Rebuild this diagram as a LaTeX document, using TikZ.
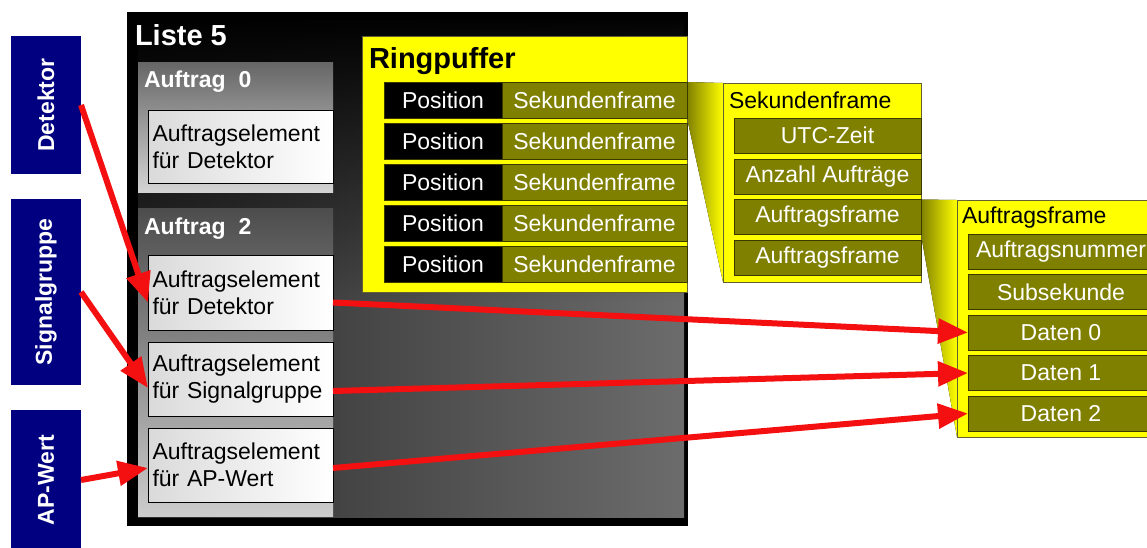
\documentclass[tikz,border=0pt]{standalone}
\usepackage{fontspec}
\setmainfont{Liberation Sans}
\usetikzlibrary{arrows.meta,calc,backgrounds,fadings}
\definecolor{navyc}{HTML}{000080}
\definecolor{olivec}{HTML}{808000}
\definecolor{yellowc}{HTML}{FFFF00}
\definecolor{redc}{HTML}{F41010}
\definecolor{edgec}{HTML}{3A3A00}
\definecolor{graylo}{HTML}{2C2C2C}
\definecolor{grayhi}{HTML}{6C6C6C}
\definecolor{aegray}{HTML}{DADADA}
\tikzfading[name=fadedown, top color=transparent!0, bottom color=transparent!100]
\begin{document}
\begin{tikzpicture}[x=1pt,y=-1pt,
  every node/.style={inner sep=0pt, outer sep=0pt},
  fs/.style={font=\fontsize{23}{27}\selectfont},
  bluebox/.style={anchor=north west, fill=navyc, minimum width=70pt, minimum height=#1},
  bluetext/.style={rotate=90, text=white, font=\bfseries\fontsize{23}{26}\selectfont},
  titlew/.style={anchor=base west, text=white, font=\bfseries\fontsize{23}{26}\selectfont},
  titlebig/.style={anchor=base west, font=\bfseries\fontsize{29}{32}\selectfont},
  titlek/.style={anchor=base west, text=black, fs},
  aebox/.style={anchor=north west, draw=black, line width=0.8pt, left color=aegray, right color=white,
     text width=176pt, inner xsep=4.5pt, align=left, fs, minimum height=#1},
  poscell/.style={anchor=north west, fill=black, draw=edgec, line width=0.8pt, minimum width=118pt,
     minimum height=36pt, text=white, fs},
  sfcell/.style={anchor=north west, fill=olivec, draw=edgec, line width=0.8pt, minimum width=185pt,
     minimum height=36pt, text=white, fs},
  ocell/.style={anchor=north west, fill=olivec, draw=edgec, line width=0.8pt, minimum width=#1,
     minimum height=35pt, text=white, fs},
  ybox/.style={anchor=north west, fill=yellowc, draw=edgec!80, line width=0.8pt},
  redarrow/.style={draw=redc, line width=6pt, -{Triangle[length=30pt,width=24pt]}}
]
\useasboundingbox (0,0) rectangle (1147,547);
\clip (0,0) rectangle (1147,547);

% blue boxes
\node[bluebox=138pt] (det) at (11,36) {};
\node[bluetext] (dett) at (det.center) {Detektor};
\node[bluebox=186pt] (sig) at (11,199) {};
\node[bluetext] (sigt) at (sig.center) {Signalgruppe};
\node[bluebox=140pt] (ap) at (11,410) {};
\node[bluetext] (apt) at (ap.center) {AP-Wert};

% Liste 5
\node[anchor=north west, minimum width=561pt, minimum height=514pt, fill=black] (liste) at (127,12) {};
\fill[left color=graylo, right color=grayhi] ($(liste.north west)+(11,8)$) rectangle ($(liste.south east)+(-4,-9)$);
\fill[black, path fading=fadedown] (liste.north west) rectangle ($(liste.north east)+(0,290)$);
\node[titlebig, text=white] (listet) at (135,45) {Liste 5};

% Auftrag 0
\node[anchor=north west, minimum width=195pt, minimum height=130pt, top color=black!60, bottom color=black!17] (auf0) at (138,62) {};
\node[titlew] (auf0t) at (144,87) {Auftrag~~0};
\node[aebox=73pt] (ae0) at (148,110) {Auftragselement\\für Detektor};

% Auftrag 2
\node[anchor=north west, minimum width=195pt, minimum height=308pt, top color=black!70, bottom color=black!20] (auf2) at (138,208) {};
\node[titlew] (auf2t) at (144,234) {Auftrag~~2};
\node[aebox=75pt] (aed) at (148,255) {Auftragselement\\für Detektor};
\node[aebox=74pt] (aes) at (148,342) {Auftragselement\\für Signalgruppe};
\node[aebox=74pt] (aea) at (148,428) {Auftragselement\\für AP-Wert};

% Ringpuffer
\node[ybox, minimum width=325pt, minimum height=256pt] (ring) at (362,36) {};
\node[titlebig, text=black] (ringt) at (369,68) {Ringpuffer};
\foreach \i in {1,...,5} {
  \node[poscell] (pos\i) at (384,{82+41*(\i-1)}) {Position};
  \node[sfcell] (sf\i) at (502,{82+41*(\i-1)}) {Sekundenframe};
}

% Sekundenframe box
\node[ybox, minimum width=198pt, minimum height=199pt] (sekbox) at (723,83) {};
\node[titlek] (sekt) at (729,108) {Sekundenframe};
\node[ocell=187pt] (utc) at (734,118) {UTC-Zeit};
\node[ocell=187pt] (anz) at (734,159) {Anzahl Aufträge};
\node[ocell=187pt] (af1) at (734,199.5) {Auftragsframe};
\node[ocell=187pt] (af2) at (734,240) {Auftragsframe};

% Auftragsframe box
\node[ybox, minimum width=210pt, minimum height=237pt] (aufbox) at (957,200) {};
\node[titlek] (auft) at (962,223) {Auftragsframe};
\node[ocell=186pt] (anr) at (968,234) {Auftragsnummer};
\node[ocell=186pt] (sub) at (968,274.5) {Subsekunde};
\node[ocell=186pt] (d0) at (968,315) {Daten 0};
\node[ocell=186pt] (d1) at (968,355.5) {Daten 1};
\node[ocell=186pt] (d2) at (968,396) {Daten 2};

% zoom wedges
\begin{scope}[on background layer]
\fill[left color=olivec, right color=yellowc] (sf1.north east) -- (sekbox.north west) -- (sekbox.south west) -- (sf1.south east) -- cycle;
\fill[left color=olivec, right color=yellowc] (af1.north east) -- (aufbox.north west) -- (aufbox.south west) -- (af1.south east) -- cycle;
\end{scope}

% red arrows
\draw[redarrow] (det.east) -- ([yshift=-10pt]aed.west);
\draw[redarrow] (sig.east) -- ([yshift=-9pt]aes.west);
\draw[redarrow] (ap.east) -- ([yshift=-3pt]aea.west);
\draw[redarrow] ([yshift=-10pt]aed.east) -- (d0.west);
\draw[redarrow] ([yshift=-12pt]aes.east) -- (d1.west);
\draw[redarrow] ([yshift=-3pt]aea.east) -- (d2.west);
\end{tikzpicture}
\end{document}
